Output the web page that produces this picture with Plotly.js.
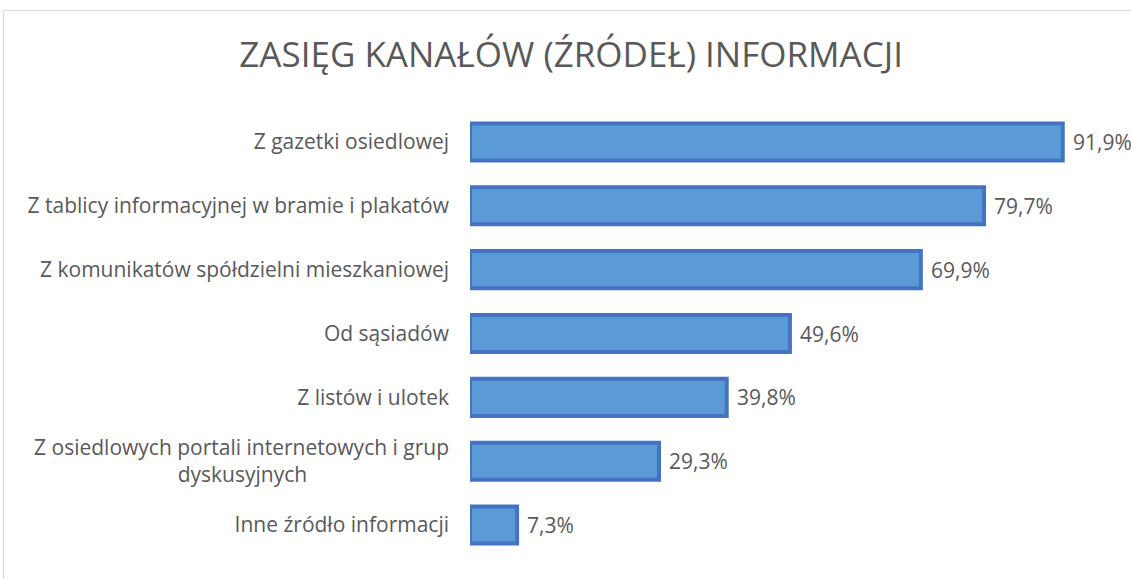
<!DOCTYPE html>
<html>
<head>
<meta charset="utf-8">
<script src="https://cdn.plot.ly/plotly-3.0.1.min.js"></script>
<style>
  html, body { margin: 0; padding: 0; background: #ffffff; }
  #chart { width: 1131px; height: 579px; position: absolute; left: 0; top: 0; }
  #frame { position: absolute; left: 3px; top: 10px; width: 1140px; height: 600px;
           border: 1px solid #d9d9d9; pointer-events: none; box-sizing: border-box; }
</style>
</head>
<body>
<div id="chart"></div>
<div id="frame"></div>
<script>
const pad = '\u00a0'.repeat(26);
const categories = [
  "Z gazetki osiedlowej",
  "Z tablicy informacyjnej w bramie i plakatów",
  "Z komunikatów spółdzielni mieszkaniowej",
  "Od sąsiadów",
  "Z listów i ulotek",
  "Z osiedlowych portali internetowych i grup<br>dyskusyjnych" + pad,
  "Inne źródło informacji"
];
const values = [91.9, 79.7, 69.9, 49.6, 39.8, 29.3, 7.3];
const labels = values.map(v => v.toFixed(1).replace('.', ',') + '%');

const textColor = '#595959';
const font = 'Open Sans, sans-serif';

const trace = {
  type: 'bar',
  orientation: 'h',
  x: values,
  y: categories,
  marker: { color: '#5B9BD5', line: { color: '#4472C4', width: 4 } },
  hoverinfo: 'none'
};

const annotations = values.map((v, i) => ({
  x: v, y: categories[i], xref: 'x', yref: 'y',
  text: labels[i], showarrow: false, xanchor: 'left', xshift: 8,
  font: { family: font, size: 21, color: textColor }
}));

const layout = {
  width: 1131, height: 579,
  margin: { l: 470, r: 16, t: 110, b: 22 },
  paper_bgcolor: 'rgba(0,0,0,0)', plot_bgcolor: 'rgba(0,0,0,0)',
  title: { text: 'ZASIĘG KANAŁÓW (ŹRÓDEŁ) INFORMACJI', x: 0.505, xanchor: 'center',
           y: 0.905, yanchor: 'middle', yref: 'container',
           font: { family: font, size: 35, color: textColor } },
  bargap: 0.42,
  showlegend: false,
  xaxis: { range: [0, 100], visible: false, fixedrange: true },
  yaxis: { autorange: 'reversed', showline: false, showgrid: false, zeroline: false,
           ticks: '', ticklabelstandoff: 20,
           tickfont: { family: font, size: 21, color: textColor }, fixedrange: true },
  annotations: annotations
};

Plotly.newPlot('chart', [trace], layout, { displayModeBar: false, staticPlot: true });
</script>
</body>
</html>
